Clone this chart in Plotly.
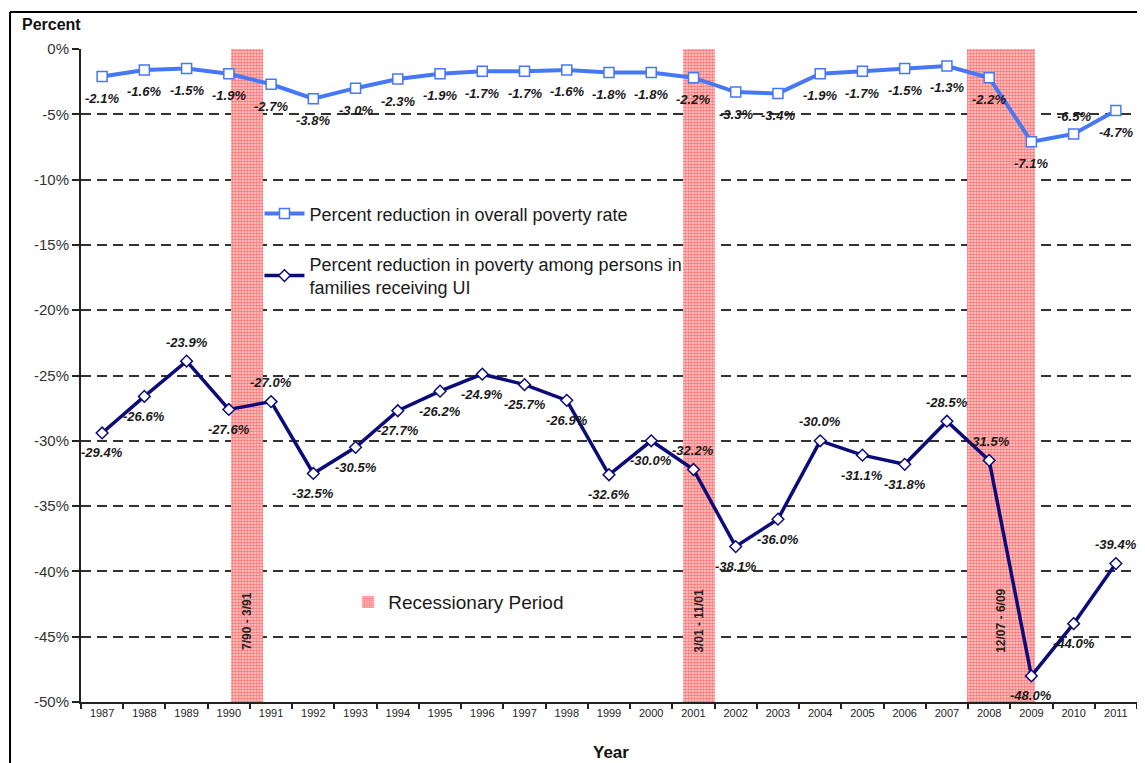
import plotly.graph_objects as go

# ---------------------------------------------------------------------------
# Data
# ---------------------------------------------------------------------------
YEARS = list(range(1987, 2012))
OVERALL = [-2.1, -1.6, -1.5, -1.9, -2.7, -3.8, -3.0, -2.3, -1.9, -1.7, -1.7, -1.6, -1.8,
           -1.8, -2.2, -3.3, -3.4, -1.9, -1.7, -1.5, -1.3, -2.2, -7.1, -6.5, -4.7]
UI_FAMILIES = [-29.4, -26.6, -23.9, -27.6, -27.0, -32.5, -30.5, -27.7, -26.2, -24.9, -25.7,
               -26.9, -32.6, -30.0, -32.2, -38.1, -36.0, -30.0, -31.1, -31.8, -28.5, -31.5,
               -48.0, -44.0, -39.4]
REC_START = [1990.05, 2000.75, 2007.47]
REC_END = [1990.81, 2001.50, 2009.08]
REC_LABELS = ["7/90 - 3/91", "3/01 - 11/01", "12/07 - 6/09"]
Y_TICKS = [0, -5, -10, -15, -20, -25, -30, -35, -40, -45, -50]

# label placement (style): +1 above the point, -1 below
OVERALL_SIDE = [-1] * 23 + [1, -1]
UI_SIDE = [-1, -1, 1, -1, 1, -1, -1, -1, -1, -1, -1, -1, -1, -1, 1, -1, -1, 1, -1, -1,
           1, 1, -1, -1, 1]

BLUE = "#4677f5"
NAVY = "#0b0b7a"
TXT = "#1a1a1a"

fig = go.Figure()

# recession bands
fig.add_trace(go.Bar(
    x=[(s + e) / 2 for s, e in zip(REC_START, REC_END)],
    y=[50] * len(REC_START),
    base=-50,
    width=[e - s for s, e in zip(REC_START, REC_END)],
    name="Recessionary Period",
    marker=dict(
        color="#ffd0d0",
        line=dict(width=0),
        pattern=dict(shape=".", fgcolor="#ff1414", bgcolor="#ffd6d6", size=3, solidity=0.6),
    ),
    hoverinfo="skip",
    legend="legend2",
))

fig.add_trace(go.Scatter(
    x=YEARS, y=OVERALL,
    name="Percent reduction in overall poverty rate",
    mode="lines+markers",
    line=dict(color=BLUE, width=4),
    marker=dict(symbol="square", size=10, color="white", line=dict(color=BLUE, width=1.5)),
    legendgroup="a",
))
fig.add_trace(go.Scatter(
    x=YEARS, y=UI_FAMILIES,
    name="Percent reduction in poverty among persons in<br>families receiving UI",
    mode="lines+markers",
    line=dict(color=NAVY, width=3.5),
    marker=dict(symbol="diamond", size=9, color="white", line=dict(color=NAVY, width=1.5)),
    legendgroup="b",
))

# data labels
for yr, v, side in zip(YEARS, OVERALL, OVERALL_SIDE):
    fig.add_annotation(x=yr, y=v, text=f"<b><i>{v:.1f}%</i></b>", showarrow=False,
                       yshift=17 if side > 0 else -22,
                       font=dict(size=13, color=TXT))
for yr, v, side in zip(YEARS, UI_FAMILIES, UI_SIDE):
    fig.add_annotation(x=yr, y=v, text=f"<b><i>{v:.1f}%</i></b>", showarrow=False,
                       yshift=19 if side > 0 else -20,
                       font=dict(size=13, color=TXT))

# band labels
for s, e, lab in zip(REC_START, REC_END, REC_LABELS):
    fig.add_annotation(x=(s + e) / 2, y=-43.8, text=f"<b>{lab}</b>", textangle=-90,
                       showarrow=False, font=dict(size=12, color="#222"))

# titles
fig.add_annotation(xref="paper", yref="paper", x=-0.058, y=1.037, xanchor="left", yanchor="middle",
                   text="<b>Percent</b>", showarrow=False, font=dict(size=16, color="#111"))
fig.add_annotation(xref="paper", yref="paper", x=0.502, y=-0.077, yanchor="middle",
                   text="<b>Year</b>", showarrow=False, font=dict(size=17, color="#111"))

# frame
fig.add_shape(type="line", xref="paper", yref="paper", x0=-0.0672, x1=1.02, y0=1.0567, y1=1.0567,
              line=dict(color="black", width=2))
fig.add_shape(type="line", xref="paper", yref="paper", x0=-0.0672, x1=-0.0672, y0=1.0567, y1=-0.1,
              line=dict(color="black", width=2))

# page body adds an 8px offset, so the figure is sized to compensate
fig.update_layout(
    width=1137, height=755,
    margin=dict(l=73, r=8, t=41, b=61),
    plot_bgcolor="white",
    paper_bgcolor="white",
    font=dict(family="Liberation Sans, Arial, sans-serif", color=TXT),
    bargap=0,
    xaxis=dict(
        range=[1986.5, 2011.5],
        tickvals=YEARS,
        ticktext=[str(y) for y in YEARS],
        ticks="",
        tickfont=dict(size=11, color="#222"),
        showgrid=False,
        showline=True, linecolor="#222", linewidth=2,
        zeroline=False,
        minor=dict(tick0=1986.5, dtick=1, ticks="outside", ticklen=5, tickwidth=1.5,
                   tickcolor="#222", showgrid=False),
    ),
    yaxis=dict(
        range=[-50, 0],
        tickvals=Y_TICKS,
        ticktext=[f"{v}%" for v in Y_TICKS],
        tickfont=dict(size=15, color="#333"),
        ticks="outside", ticklen=7, tickwidth=1.5, tickcolor="#222",
        showgrid=True, gridcolor="#333", gridwidth=1.5, griddash="10px,6px",
        showline=True, linecolor="#222", linewidth=2,
        zeroline=False,
    ),
    legend=dict(
        x=0.169, y=0.776, xanchor="left", yanchor="top",
        bgcolor="rgba(0,0,0,0)",
        font=dict(size=18, color=TXT),
        traceorder="grouped", tracegroupgap=24,
        itemwidth=40,
    ),
    legend2=dict(
        x=0.253, y=0.182, xanchor="left", yanchor="top",
        bgcolor="rgba(0,0,0,0)",
        font=dict(size=19, color=TXT),
    ),
)

fig.write_html("out.html")
